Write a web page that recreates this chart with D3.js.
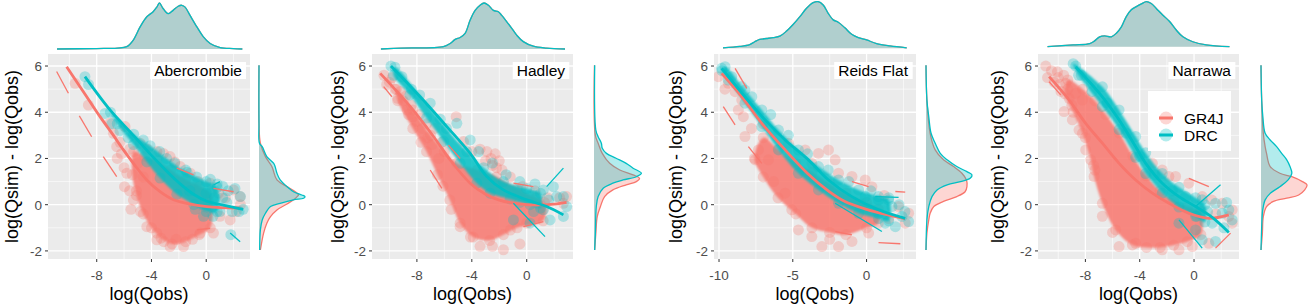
<!DOCTYPE html>
<html>
<head>
<meta charset="utf-8">
<script src="https://d3js.org/d3.v7.min.js"></script>
<style>
body {margin:0; background:#fff;}
text {font-family: "Liberation Sans", Arial, sans-serif;}
</style>
</head>
<body>
<svg id="chart" width="1308" height="305"></svg>
<script>
// ---- data ----
var sites = ['Abercrombie', 'Hadley', 'Reids Flat', 'Narrawa'];
var models = ['GR4J', 'DRC'];
var colors = {GR4J: '#F8766D', DRC: '#00BFC4'};
var yTicks = [-2, 0, 2, 4, 6];
var yMinor = [-1, 1, 3, 5];
var xTicks = [[-8, -4, 0], [-8, -4, 0], [-10, -5, 0], [-8, -4, 0]];
var xMinor = [[-10, -6, -2, 2], [-10, -6, -2, 2], [-7.5, -2.5, 2.5], [-10, -6, -2, 2]];

// dense (saturated) part of each point cloud, outline [log(Qobs), residual]
var coreGR4J = [
  [[-5.3,2.3],[-4.5,2.1],[-3.6,1.9],[-2.6,1.5],[-1.5,1.1],[-0.5,0.8],[0.3,0.5],[0.3,-1.0],[-0.5,-1.3],[-1.5,-1.6],[-2.5,-1.7],[-3.3,-1.45],[-4.0,-1.0],[-4.6,-0.4],[-5.1,0.4],[-5.4,1.3]],
  [[-9.5,5.0],[-8.3,4.1],[-7.0,3.0],[-6.0,2.3],[-5.1,1.8],[-3.6,1.5],[-2.2,1.2],[-0.7,0.7],[0.7,0.3],[1.3,0.1],[1.2,-0.7],[-0.7,-1.0],[-1.7,-1.3],[-2.7,-1.55],[-3.9,-1.4],[-4.85,-0.8],[-5.6,0.2],[-6.5,1.3],[-7.3,2.3],[-8.3,3.3],[-9.4,4.5]],
  [[-7.0,2.9],[-6.0,2.4],[-4.8,1.8],[-3.7,1.4],[-2.5,0.9],[-1.4,0.5],[0,0.1],[0.8,-0.2],[0.8,-0.8],[0,-1.0],[-1.4,-1.3],[-2.5,-1.2],[-3.7,-1.0],[-4.8,-0.4],[-6.0,0.3],[-7.0,1.2],[-7.6,2.0]],
  [[-9.3,5.4],[-8.2,5.0],[-7.3,4.5],[-6.5,3.9],[-5.5,3.1],[-4.5,2.1],[-3.5,1.25],[-2.5,0.6],[-1.5,0.2],[-0.5,-0.1],[0.5,-0.3],[0.5,-1.3],[-0.5,-1.6],[-1.5,-1.75],[-2.5,-1.85],[-3.5,-1.85],[-4.54,-1.74],[-5.77,-1.09],[-6.75,0.06],[-7.36,1.22],[-7.61,1.94],[-8.22,3.09],[-8.9,4.0],[-9.5,4.8]]
];
var coreDRC = [
  [[-7.0,4.0],[-5.3,3.05],[-4.1,2.55],[-2.9,2.0],[-1.4,1.4],[0.0,1.0],[0.8,0.75],[0.8,-0.3],[0.0,-0.3],[-0.9,0.0],[-2.15,0.45],[-3.37,1.15],[-4.34,1.85],[-5.32,2.6],[-6.5,3.5]],
  [[-9.6,5.95],[-7.8,4.75],[-5.85,3.3],[-4.36,2.3],[-3.15,1.6],[-1.7,1.0],[0,0.7],[1.0,0.5],[1.0,-0.15],[0.24,0.0],[-1.21,0.25],[-2.67,0.5],[-3.64,0.93],[-4.85,1.79],[-6.06,2.75],[-7.3,3.75],[-8.5,4.75],[-9.7,5.6]],
  [[-9.59,5.97],[-8.24,4.96],[-7.1,4.1],[-5.97,3.23],[-4.62,2.37],[-3.26,1.65],[-1.9,1.07],[-0.54,0.64],[0.81,0.35],[1.5,0.2],[1.5,-0.7],[0.81,-0.6],[-0.54,-0.37],[-1.9,0.06],[-3.26,0.64],[-4.62,1.36],[-5.97,2.37],[-7.1,3.38],[-8.24,4.39],[-9.37,5.39],[-9.8,5.8]],
  [[-8.9,6.1],[-6.75,5.1],[-5.52,4.1],[-4.3,2.95],[-3.56,2.25],[-2.34,1.35],[-1.11,0.75],[0.11,0.3],[0.8,0.0],[0.8,-0.75],[0.11,-0.5],[-1.11,-0.1],[-2.34,0.5],[-3.56,1.35],[-4.3,2.05],[-5.52,3.25],[-6.75,4.25],[-8.5,5.6]]
];
// scattered points around the dense part
var ptsGR4J = [
  [[-9.58,5.25],[-8.61,4.31],[-7.03,3.52],[-6.78,3.09],[-6.54,2.51],[-5.93,3.38],[-6.2,2.2],[-6.5,2.0],[-6.0,1.6],[-5.6,2.4],[-6.3,2.7],[-5.6,0.6],[-5.5,-0.2],[-5.0,1.8],[-4.6,1.2],[-5.8,1.36],[-5.97,0.78],[-5.32,0.2],[-4.83,2.66],[-4.3,2.4],[-3.6,2.3],[-3.13,2.22],[-2.64,2.08],[-2.3,1.85],[-1.9,1.65],[-1.17,1.36],[-0.6,1.0],[0.29,0.93],[0.9,0.5],[1.4,0.3],[2.0,0.64],[2.48,0.35],[2.5,0.0],[2.2,-0.3],[1.75,-0.66],[1.0,-0.5],[0.53,-1.23],[-0.44,-1.23],[-1.0,-1.5],[-1.66,-1.81],[-2.2,-1.5],[-2.64,-1.81],[-3.1,-1.6],[-3.61,-1.23],[-3.61,-1.52],[-4.34,-0.95],[-4.8,-0.3],[-5.1,0.6]],
  [[-10.4,5.6],[-10.0,5.3],[-9.6,5.0],[-9.4,4.6],[-9.0,4.5],[-8.7,4.1],[-8.4,4.3],[-8.3,3.8],[-8.0,3.6],[-7.8,3.9],[-7.6,3.3],[-7.7,2.7],[-6.9,2.6],[-6.7,3.3],[-6.4,2.0],[-10.2,5.2],[-9.8,5.5],[-9.2,4.9],[-8.8,4.7],[-8.6,3.9],[-7.3,3.5],[-7.2,2.9],[-6.2,2.7],[-5.14,3.81],[-4.6,2.73],[-4.0,2.3],[-3.4,2.4],[-2.9,2.3],[-2.6,2.0],[-2.3,2.2],[-2.0,1.9],[-2.2,1.6],[-1.8,1.5],[-2.5,1.7],[-3.0,1.9],[-1.2,1.2],[-0.3,0.8],[0.6,0.6],[1.5,0.3],[2.4,0.3],[2.9,0.35],[2.67,0.06],[1.2,-0.2],[0,-0.8],[-0.5,-1.7],[-1.2,-1.1],[-1.7,-1.95],[-2.5,-1.8],[-3.4,-1.8],[-4.1,-1.4],[-4.85,-0.95],[-5.5,-0.2],[-6.1,0.8]],
  [[-10.05,5.54],[-9.37,5.25],[-8.91,4.89],[-8.46,4.53],[-8.69,4.1],[-8.35,3.81],[-8.24,2.95],[-7.33,2.37],[-7.55,1.94],[-6.65,1.94],[-9.6,5.0],[-7.8,3.3],[-7.0,3.5],[-5.29,2.66],[-4.16,2.37],[-3.26,2.22],[-2.58,2.37],[-3.71,1.79],[-2.13,1.94],[-1.9,1.36],[-0.99,1.22],[-0.09,1.07],[0.36,0.78],[1.2,0.4],[2.17,-0.08],[2.85,-0.37],[2.62,-0.8],[1.5,-0.6],[-4.62,-1.09],[-3.71,-1.38],[-3.03,-1.81],[-1.9,-1.81],[-0.99,-1.59],[0.14,-1.23],[-5.07,-0.22],[-5.52,0.5],[-6.3,1.0],[-2.5,-1.5]],
  [[-10.92,6.0],[-10.79,5.5],[-10.06,5.75],[-10.3,5.3],[-9.9,5.2],[-9.45,5.25],[-9.2,4.6],[-9.8,4.9],[-10.5,5.8],[-10.0,5.5],[-9.6,5.6],[-9.3,5.0],[-9.57,4.03],[-8.96,3.67],[-8.47,3.23],[-7.98,2.37],[-8.22,4.53],[-8.71,4.82],[-9.0,4.3],[-8.0,2.9],[-7.4,1.7],[-7.3,1.5],[-3.07,1.79],[-2.34,1.5],[-1.85,1.22],[-1.36,1.22],[-0.38,0.93],[0.6,0.35],[1.3,0.2],[2.07,0.06],[2.81,-0.22],[2.56,-0.51],[2.81,-0.8],[1.6,-0.4],[1.09,-1.67],[-0.13,-1.81],[-1.11,-1.95],[-2.34,-1.95],[-4.3,-1.67],[-5.52,-1.81],[-6.0,-1.2],[-6.75,-0.5]]
];
var ptsDRC = [
  [[-8.86,5.54],[-8.6,5.2],[-7.4,3.95],[-6.9,3.5],[-6.3,3.2],[-5.7,2.9],[-4.6,2.8],[-3.4,2.3],[-2.3,1.8],[-1.5,1.5],[-0.7,1.2],[0.3,1.1],[0.8,0.9],[1.2,0.8],[1.6,0.6],[2.1,0.7],[2.5,0.35],[2.7,-0.2],[2.4,-0.3],[1.9,-0.3],[1.5,0.1],[1.0,-0.3],[1.2,0.3],[0.5,-0.5],[-0.2,-0.5],[-0.8,-0.2],[1.8,-1.3],[0.6,0.3],[0.0,0.5],[-1.2,0.6]],
  [[-9.89,6.0],[-9.09,5.54],[-8.4,5.0],[-7.03,4.39],[-6.3,3.7],[-5.09,3.52],[-4.12,2.8],[-3.5,2.3],[-2.5,1.8],[-1.5,1.3],[-0.5,1.0],[0.6,0.9],[1.21,0.64],[1.94,0.78],[2.67,0.35],[2.18,0.35],[2.91,-0.08],[2.67,-0.51],[1.7,-0.66],[1.21,-0.22],[0.24,-0.8],[-0.97,-0.66],[1.6,0.2],[0.5,-0.3],[-0.5,0.1]],
  [[-9.82,5.9],[-9.14,5.54],[-8.46,5.11],[-7.78,4.67],[-6.5,3.9],[-5.3,3.0],[-4.0,2.2],[-2.6,1.5],[-1.2,1.0],[-0.09,0.35],[0.81,0.2],[1.72,-0.08],[2.4,-0.51],[2.85,-0.73],[1.95,-0.95],[1.27,-0.8],[0.81,-0.37],[2.2,0.0],[1.5,0.3],[2.6,-0.3],[0.3,0.6]],
  [[-8.71,6.0],[-8.3,5.6],[-7.5,4.9],[-6.4,4.4],[-5.0,3.1],[-4.0,2.1],[-2.9,1.3],[-1.6,0.6],[-0.62,0.35],[0.6,0.21],[1.58,0.06],[2.07,-0.37],[2.56,-0.22],[2.81,-0.66],[1.58,-1.59],[0.6,-1.52],[0.11,-1.09],[-1.11,-0.8],[1.34,-0.8],[2.2,-1.0],[1.0,-0.3],[2.4,0.1],[0.2,-0.5]]
];
// fitted curves
var smoothGR4J = [
  [[-10.2,5.97],[-8.73,4.67],[-7.76,3.81],[-6.78,3.0],[-6.05,2.37],[-5.32,1.79],[-4.34,1.07],[-3.37,0.56],[-2.39,0.21],[-1.42,0.06],[0.05,-0.08],[2.5,-0.15]],
  [[-10.67,5.68],[-8.48,4.24],[-6.79,2.95],[-5.58,1.94],[-4.12,0.93],[-3.0,0.45],[-2.0,0.2],[0,0.0],[1.5,0.0],[2.9,0.1]],
  [[-9.82,5.68],[-8.46,4.67],[-7.1,3.52],[-5.52,2.37],[-4.0,1.35],[-2.6,0.6],[-1.5,0.15],[0,-0.2],[1.5,-0.45],[2.6,-0.6]],
  [[-10.67,5.54],[-9.2,4.53],[-7.98,3.52],[-6.75,2.66],[-5.52,1.79],[-4.3,1.07],[-3.07,0.5],[-1.85,0.06],[-0.38,-0.37],[1.09,-0.59],[2.56,-0.44]]
];
var smoothDRC = [
  [[-8.86,5.54],[-7.03,4.1],[-5.32,3.0],[-4.1,2.2],[-2.88,1.45],[-1.9,0.9],[-0.93,0.45],[0.05,0.15],[1.5,-0.05],[2.7,-0.2]],
  [[-9.89,6.0],[-7.76,4.67],[-5.82,3.38],[-4.12,2.22],[-2.91,1.22],[-1.7,0.64],[0,0.21],[1.45,-0.08],[2.67,-0.44]],
  [[-9.82,5.9],[-8.24,4.67],[-6.88,3.67],[-5.52,2.8],[-3.94,1.94],[-2.58,1.07],[-1.0,0.35],[0.81,-0.22],[2.62,-0.59]],
  [[-8.71,5.96],[-6.75,4.67],[-5.52,3.67],[-4.3,2.51],[-3.56,1.79],[-2.34,0.93],[-1.11,0.35],[0.11,-0.08],[1.34,-0.55],[2.56,-1.2]]
];
// short quantile line pieces
var segGR4J = [
  [[[-10.93,5.76],[-10.07,4.82]],[[-9.27,3.84],[-8.37,2.94]],[[-7.52,2.08],[-6.54,1.21]],[[-2.15,1.58],[-0.93,1.29]],[[0.53,0.71],[2.0,0.56]],[[-0.68,-1.09],[0.29,-1.02]]],
  [[[-7.03,1.5],[-6.18,0.71]],[[-5.7,2.58],[-4.85,2.0]],[[-0.97,0.93],[0.48,0.78]],[[-0.24,-0.95],[1.21,-0.73]],[[-10.42,5.11],[-9.82,4.67]]],
  [[[-8.91,5.9],[-8.12,5.03]],[[-9.71,4.24],[-8.91,3.45]],[[-8.01,2.51],[-7.1,1.79]],[[-0.99,1.0],[0.14,0.78]],[[1.95,0.57],[2.62,0.54]],[[-2.13,-1.16],[-0.99,-1.31]],[[0.81,-1.64],[2.29,-1.69]]],
  [[[-10.67,5.32],[-9.82,4.75]],[[-0.38,1.14],[1.09,0.78]],[[1.58,-1.88],[2.69,-1.23]]]
];
var segDRC = [
  [[[0.53,0.85],[1.0,1.0]],[[1.75,-1.23],[2.48,-1.6]]],
  [[[1.45,0.78],[2.67,1.58]],[[-0.97,0.06],[1.33,-1.38]]],
  [[[0.59,0.35],[2.17,0.32]],[[-2.13,0.06],[1.04,-1.16]]],
  [[[0.11,-0.08],[1.95,0.86]],[[-1.11,-0.66],[0.6,-1.88]]]
];
// marginal density of log(Qobs) (relative), same for both models
var densQobs = [
  [[-10.9,0],[-8,0.01],[-6.5,0.02],[-5.81,0.05],[-5.34,0.19],[-4.83,0.48],[-4.34,0.7],[-3.88,0.81],[-3.61,0.91],[-3.42,1.0],[-3.15,0.88],[-2.78,0.77],[-2.42,0.84],[-2.05,0.93],[-1.78,0.95],[-1.54,0.91],[-1.18,0.73],[-0.68,0.48],[-0.22,0.27],[0.29,0.12],[1.03,0.03],[1.98,0.01],[2.64,0]],
  [[-10.62,0],[-9.21,0.02],[-6.07,0.05],[-5.58,0.12],[-5.21,0.21],[-4.85,0.25],[-4.49,0.34],[-4.12,0.63],[-3.76,0.84],[-3.4,0.95],[-3.11,1.0],[-2.79,0.95],[-2.43,0.84],[-2.07,0.81],[-1.82,0.73],[-1.45,0.59],[-1.09,0.45],[-0.73,0.3],[-0.25,0.16],[0.48,0.06],[1.45,0.02],[2.79,0]],
  [[-9.73,0.01],[-8.59,0.04],[-7.92,0.08],[-7.58,0.14],[-7.24,0.19],[-6.78,0.21],[-6.33,0.23],[-5.88,0.26],[-5.42,0.37],[-4.98,0.51],[-4.52,0.68],[-4.07,0.86],[-3.62,0.98],[-3.28,1.0],[-2.94,0.93],[-2.6,0.75],[-2.26,0.61],[-1.92,0.56],[-1.47,0.44],[-1.01,0.3],[-0.56,0.23],[0,0.18],[0.68,0.1],[1.59,0.05],[2.72,0.01]],
  [[-10.79,0],[-8.91,0.04],[-7.68,0.07],[-7.32,0.13],[-6.95,0.22],[-6.58,0.24],[-6.09,0.22],[-5.72,0.3],[-5.35,0.44],[-4.99,0.67],[-4.62,0.82],[-4.25,0.89],[-3.88,0.95],[-3.51,1.0],[-3.15,0.96],[-2.78,0.85],[-2.29,0.7],[-1.8,0.56],[-1.31,0.37],[-0.82,0.22],[-0.09,0.11],[0.9,0.04],[2.61,0]]
];
// marginal density of the residual (relative) per model
var densResGR4J = [
  [[6.03,0],[3.5,0],[2.66,0.03],[2.08,0.14],[1.65,0.28],[1.07,0.39],[0.78,0.61],[0.56,0.79],[0.42,0.86],[0.35,0.83],[0.21,0.75],[0.03,0.61],[-0.23,0.39],[-0.52,0.25],[-0.8,0.17],[-1.23,0.1],[-1.96,0.03]],
  [[6.03,0.01],[3.0,0.03],[2.66,0.09],[2.22,0.18],[1.79,0.34],[1.5,0.56],[1.29,0.85],[1.14,0.99],[1.0,0.92],[0.86,0.7],[0.64,0.41],[0.35,0.23],[-0.08,0.14],[-0.52,0.07],[-1.23,0.04],[-1.96,0.015]],
  [[6.03,0],[4.53,0.02],[3.09,0.09],[2.37,0.2],[1.94,0.38],[1.65,0.6],[1.36,0.78],[1.07,0.88],[0.78,0.89],[0.56,0.85],[0.35,0.67],[0.14,0.38],[-0.08,0.17],[-0.37,0.09],[-0.66,0.06],[-1.23,0.02],[-1.96,0]],
  [[6.03,0],[4.53,0.015],[3.09,0.05],[2.51,0.09],[2.22,0.12],[1.65,0.2],[1.36,0.41],[1.21,0.67],[1.0,0.9],[0.86,1.0],[0.64,0.95],[0.42,0.82],[0.28,0.56],[0.14,0.27],[-0.08,0.12],[-0.52,0.05],[-1.23,0.03],[-1.96,0]]
];
var densResDRC = [
  [[6.03,0],[3.5,0],[2.66,0.01],[2.51,0.07],[2.08,0.17],[1.79,0.32],[1.65,0.35],[1.36,0.39],[1.07,0.46],[0.78,0.61],[0.56,0.75],[0.42,0.93],[0.35,1.0],[0.28,0.97],[0.21,0.75],[0.06,0.46],[-0.08,0.25],[-0.37,0.14],[-0.66,0.07],[-1.09,0.03],[-1.96,0.015]],
  [[6.03,0.015],[3.23,0.04],[2.94,0.09],[2.66,0.16],[2.44,0.18],[2.22,0.27],[2.01,0.48],[1.79,0.7],[1.58,0.85],[1.36,1.03],[1.21,0.92],[1.07,0.63],[0.93,0.41],[0.71,0.2],[0.35,0.09],[-0.08,0.05],[-1.23,0.03],[-1.96,0.015]],
  [[6.03,0],[4.53,0.02],[3.81,0.06],[3.09,0.11],[2.66,0.2],[2.22,0.31],[1.94,0.46],[1.65,0.67],[1.43,0.89],[1.29,1.0],[1.14,0.96],[1.0,0.75],[0.86,0.46],[0.64,0.24],[0.35,0.13],[-0.08,0.06],[-0.66,0.02],[-1.96,0]],
  [[6.03,0],[4.53,0.015],[3.81,0.04],[3.09,0.09],[2.8,0.2],[2.51,0.34],[2.22,0.45],[1.94,0.56],[1.65,0.63],[1.36,0.67],[1.07,0.59],[0.78,0.41],[0.49,0.2],[0.21,0.09],[-0.08,0.05],[-0.37,0.03],[-1.96,0]]
];

// ---- layout ----
var panelBox = [
  {left: 48,   right: 250,  xdom: [-11.56, 3.2],  ylab: 12,  mx: 259,  topBase: 49,   topH: 46, sideW: 46},
  {left: 372,  right: 573,  xdom: [-11.27, 3.37], ylab: 338, mx: 594,  topBase: 49,   topH: 46, sideW: 46},
  {left: 714,  right: 916,  xdom: [-10.34, 3.35], ylab: 676, mx: 926,  topBase: 48.3, topH: 46.6, sideW: 46},
  {left: 1038, right: 1239, xdom: [-11.49, 3.31], ylab: 998, mx: 1261, topBase: 46.7, topH: 45, sideW: 46}
];
var top0 = 54, bot0 = 259;

var svg = d3.select('#chart');
var y = d3.scaleLinear().domain([-2.35, 6.52]).range([bot0, top0]);

// soft edge for the saturated cloud cores
svg.append('defs').append('filter').attr('id', 'soft')
  .attr('x', '-10%').attr('y', '-10%').attr('width', '120%').attr('height', '120%')
  .append('feGaussianBlur').attr('stdDeviation', 1.3);

panelBox.forEach(function(b, i) {
  var x = d3.scaleLinear().domain(b.xdom).range([b.left, b.right]);
  var g = svg.append('g');

  svg.append('clipPath').attr('id', 'clip' + i)
    .append('rect').attr('x', b.left).attr('y', top0)
    .attr('width', b.right - b.left).attr('height', bot0 - top0);

  g.append('rect').attr('x', b.left).attr('y', top0)
    .attr('width', b.right - b.left).attr('height', bot0 - top0)
    .attr('fill', '#EBEBEB');

  // grid
  g.selectAll('.vmin').data(xMinor[i]).enter().append('line')
    .attr('x1', d => x(d)).attr('x2', d => x(d)).attr('y1', top0).attr('y2', bot0)
    .attr('stroke', '#fff').attr('stroke-width', 0.6);
  g.selectAll('.hmin').data(yMinor).enter().append('line')
    .attr('y1', d => y(d)).attr('y2', d => y(d)).attr('x1', b.left).attr('x2', b.right)
    .attr('stroke', '#fff').attr('stroke-width', 0.6);
  g.selectAll('.vmaj').data(xTicks[i]).enter().append('line')
    .attr('x1', d => x(d)).attr('x2', d => x(d)).attr('y1', top0).attr('y2', bot0)
    .attr('stroke', '#fff').attr('stroke-width', 1.3);
  g.selectAll('.hmaj').data(yTicks).enter().append('line')
    .attr('y1', d => y(d)).attr('y2', d => y(d)).attr('x1', b.left).attr('x2', b.right)
    .attr('stroke', '#fff').attr('stroke-width', 1.3);

  var pl = g.append('g').attr('clip-path', 'url(#clip' + i + ')');
  var lg = d3.line().x(d => x(d[0])).y(d => y(d[1]));

  // point clouds: dense core, circles on its rim, scattered circles
  [['GR4J', coreGR4J[i], ptsGR4J[i]], ['DRC', coreDRC[i], ptsDRC[i]]].forEach(function(s) {
    pl.append('path')
      .attr('d', lg.curve(d3.curveCatmullRomClosed)(s[1]))
      .attr('fill', colors[s[0]]).attr('fill-opacity', 0.85)
      .attr('filter', 'url(#soft)');
    pl.selectAll(null).data(s[1].concat(s[2])).enter().append('circle')
      .attr('cx', d => x(d[0])).attr('cy', d => y(d[1])).attr('r', 5.5)
      .attr('fill', colors[s[0]]).attr('fill-opacity', 0.28);
  });

  // fitted lines
  [['GR4J', smoothGR4J[i], segGR4J[i]], ['DRC', smoothDRC[i], segDRC[i]]].forEach(function(s) {
    pl.append('path')
      .attr('d', lg.curve(d3.curveCatmullRom)(s[1]))
      .attr('fill', 'none').attr('stroke', colors[s[0]]).attr('stroke-width', 2.8);
    pl.selectAll(null).data(s[2]).enter().append('path')
      .attr('d', d => lg.curve(d3.curveLinear)(d))
      .attr('fill', 'none').attr('stroke', colors[s[0]]).attr('stroke-width', 1.3);
  });

  // site label
  var lab = g.append('text').attr('x', b.right - 8).attr('y', 76)
    .attr('text-anchor', 'end').attr('font-size', 15.5).attr('fill', '#000')
    .text(sites[i]);
  var bb = lab.node().getBBox();
  g.insert('rect', function() { return lab.node(); })
    .attr('x', bb.x - 4).attr('y', 62).attr('width', bb.width + 8).attr('height', 17)
    .attr('fill', '#fff');

  // axes
  g.selectAll('.yt').data(yTicks).enter().append('line')
    .attr('x1', b.left - 3).attr('x2', b.left).attr('y1', d => y(d)).attr('y2', d => y(d))
    .attr('stroke', '#333').attr('stroke-width', 1);
  g.selectAll('.ytl').data(yTicks).enter().append('text')
    .attr('x', b.left - 6).attr('y', d => y(d)).attr('dy', '0.36em')
    .attr('text-anchor', 'end').attr('font-size', 13.5).attr('fill', '#4D4D4D')
    .text(d => d);
  g.selectAll('.xt').data(xTicks[i]).enter().append('line')
    .attr('x1', d => x(d)).attr('x2', d => x(d)).attr('y1', bot0).attr('y2', bot0 + 3)
    .attr('stroke', '#333').attr('stroke-width', 1);
  g.selectAll('.xtl').data(xTicks[i]).enter().append('text')
    .attr('x', d => x(d)).attr('y', 280)
    .attr('text-anchor', 'middle').attr('font-size', 13.5).attr('fill', '#4D4D4D')
    .text(d => d);
  g.append('text').attr('x', (b.left + b.right) / 2).attr('y', 300)
    .attr('text-anchor', 'middle').attr('font-size', 18).text('log(Qobs)');
  g.append('text')
    .attr('transform', 'translate(' + (b.ylab + 6) + ',' + ((top0 + bot0) / 2) + ')rotate(-90)')
    .attr('text-anchor', 'middle').attr('font-size', 18).text('log(Qsim) - log(Qobs)');

  // top marginal
  var tA = d3.area().curve(d3.curveCatmullRom)
    .x(d => x(d[0])).y0(b.topBase).y1(d => b.topBase - d[1] * b.topH);
  var tL = d3.line().curve(d3.curveCatmullRom)
    .x(d => x(d[0])).y(d => b.topBase - d[1] * b.topH);
  models.forEach(function(m) {
    g.append('path').attr('d', tA(densQobs[i])).attr('fill', colors[m]).attr('fill-opacity', 0.3);
    g.append('path').attr('d', tL(densQobs[i])).attr('fill', 'none')
      .attr('stroke', colors[m]).attr('stroke-width', 1.3);
  });

  // right marginal
  var rA = d3.area().curve(d3.curveCatmullRom)
    .y(d => y(d[0])).x0(b.mx).x1(d => b.mx + d[1] * b.sideW);
  var rL = d3.line().curve(d3.curveCatmullRom)
    .y(d => y(d[0])).x(d => b.mx + d[1] * b.sideW);
  [['GR4J', densResGR4J[i]], ['DRC', densResDRC[i]]].forEach(function(s) {
    g.append('path').attr('d', rA(s[1])).attr('fill', colors[s[0]]).attr('fill-opacity', 0.3);
    g.append('path').attr('d', rL(s[1])).attr('fill', 'none')
      .attr('stroke', colors[s[0]]).attr('stroke-width', 1.3);
  });
});

// legend (inside last panel)
var leg = svg.append('g');
leg.append('rect').attr('x', 1148).attr('y', 91).attr('width', 83).attr('height', 60).attr('fill', '#fff');
models.forEach(function(m, k) {
  var cy = 118 + k * 17;
  leg.append('circle').attr('cx', 1166).attr('cy', cy).attr('r', 6.5)
    .attr('fill', colors[m]).attr('fill-opacity', 0.3);
  leg.append('line').attr('x1', 1159).attr('x2', 1173).attr('y1', cy).attr('y2', cy)
    .attr('stroke', colors[m]).attr('stroke-width', 3);
  leg.append('text').attr('x', 1184).attr('y', cy).attr('dy', '0.36em')
    .attr('font-size', 15.5).text(m);
});
</script>
</body>
</html>
